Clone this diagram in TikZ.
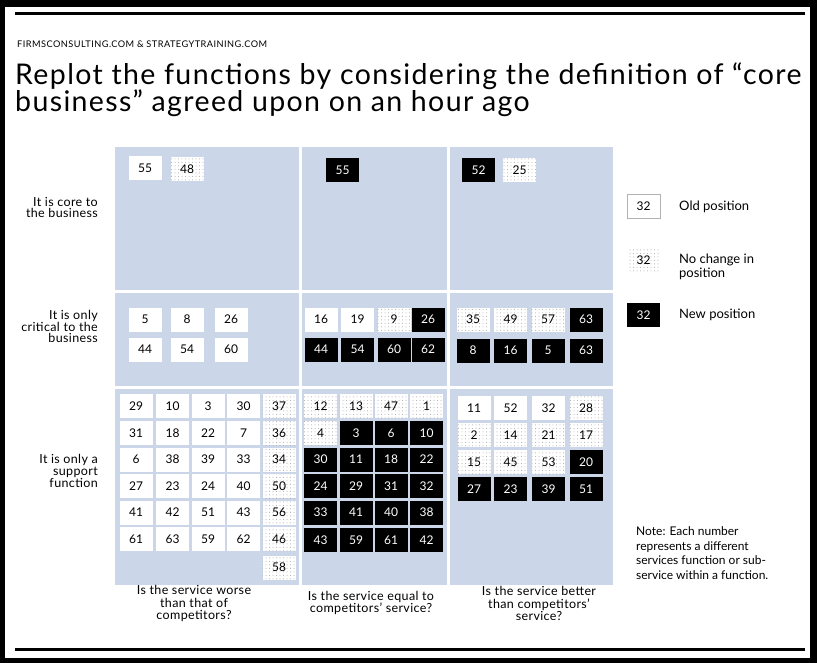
\documentclass[tikz,border=0pt]{standalone}
\usepackage{fontspec}
\setmainfont{Lato}
\newfontfamily\widefont[LetterSpace=3]{Lato}
\newfontfamily\headfont[LetterSpace=5]{Lato}
\newfontfamily\titlefont[LetterSpace=4.8]{Lato}
\usetikzlibrary{patterns.meta}
\definecolor{cellblue}{RGB}{204,214,233}

\begin{document}
\begin{tikzpicture}[
       x=1pt, y=-1pt,
       cell/.style={fill=cellblue},
       numbox/.style={
         minimum width=33pt,
         minimum height=24pt,
         inner sep=0pt,
         font=\fontsize{12}{12}\selectfont
       },
       oldpos/.style={numbox, fill=white},
       samepos/.style={
         numbox,
         preaction={fill=white},
         pattern={Dots[distance=3.5pt,radius=0.5pt]},
         pattern color=gray!70
       },
       newpos/.style={numbox, fill=black, text=white},
       rowlbl/.style={anchor=east, align=right, inner sep=0pt, font=\widefont\fontsize{12.5}{11.8}\selectfont},
       collbl/.style={align=center, inner sep=0pt, font=\widefont\fontsize{12.5}{12.3}\selectfont},
       keylbl/.style={anchor=west, align=left, inner sep=0pt, font=\fontsize{13}{14.5}\selectfont}
     ]

       \useasboundingbox (0,0) rectangle (817,663);
       \fill[black] (0,0) rectangle (817,663);
       \fill[white] (5,7) rectangle (810,658);
       \fill[black] (15,12.5) rectangle (805,15.5);
       \fill[black] (15,647.5) rectangle (805,650.5);

       \node (head) at (17,48) [anchor=base west, inner sep=0pt, font=\headfont\fontsize{9.2}{10}\selectfont]{FIRMSCONSULTING.COM \& STRATEGYTRAINING.COM};
       \node (title1) at (15,85) [anchor=base west, inner sep=0pt, font=\titlefont\fontsize{28.5}{28}\selectfont]{Replot the functions by considering the definition of “core};
       \node (title2) at (15,112) [anchor=base west, inner sep=0pt, font=\titlefont\fontsize{28.5}{28}\selectfont]{business” agreed upon on an hour ago};

       % the nine cells
       \fill[cell] (115,147) rectangle (299,290);
       \fill[cell] (302,147) rectangle (447,290);
       \fill[cell] (450,147) rectangle (613,290);
       \fill[cell] (115,293) rectangle (299,386);
       \fill[cell] (302,293) rectangle (447,386);
       \fill[cell] (450,293) rectangle (613,386);
       \fill[cell] (115,389) rectangle (299,585);
       \fill[cell] (302,389) rectangle (447,585);
       \fill[cell] (450,389) rectangle (613,585);

       \node (t1) at (98,207.5) [rowlbl]{It is core to\\the business};
       \node (t2) at (98,326.5) [rowlbl]{It is only\\critical to the\\business};
       \node (t3) at (98,471) [rowlbl]{It is only a\\support\\function};

       \node (q1) at (194,603.5) [collbl]{Is the service worse\\than that of\\competitors?};
       \node (q2) at (371,603) [collbl]{Is the service equal to\\competitors’ service?};
       \node (q3) at (539,603.5) [collbl]{Is the service better\\than competitors’\\service?};

       % core
       \node (c1) at (145,168.5) [oldpos]{55};
       \node (c2) at (187,169) [samepos]{48};
       \node (c3) at (342.5,170) [newpos]{55};
       \node (c4) at (478.5,170) [newpos]{52};
       \node (c5) at (519.5,170) [samepos]{25};

       % critical
       \node (r1) at (145,319.5) [oldpos]{5};
       \node (r2) at (187,319.5) [oldpos]{8};
       \node (r3) at (231,319.5) [oldpos]{26};
       \node (r4) at (145,349.5) [oldpos]{44};
       \node (r5) at (187,349.5) [oldpos]{54};
       \node (r6) at (231,349.5) [oldpos]{60};

       \node (r7) at (321,319.5) [oldpos]{16};
       \node (r8) at (357.5,319.5) [oldpos]{19};
       \node (r9) at (394,319.5) [samepos]{9};
       \node (r10) at (428,319.5) [newpos]{26};
       \node (r11) at (321,349.5) [newpos]{44};
       \node (r12) at (357.5,349.5) [newpos]{54};
       \node (r13) at (394,349.5) [newpos]{60};
       \node (r14) at (428,349.5) [newpos]{62};

       \node (r15) at (473,319.5) [samepos]{35};
       \node (r16) at (510.5,319.5) [samepos]{49};
       \node (r17) at (548,319.5) [samepos]{57};
       \node (r18) at (586,319.5) [newpos]{63};
       \node (r19) at (473,350.5) [newpos]{8};
       \node (r20) at (510.5,350.5) [newpos]{16};
       \node (r21) at (548,350.5) [newpos]{5};
       \node (r22) at (586,350.5) [newpos]{63};

       % support, worse
       \node (s1) at (136,406) [oldpos]{29};
       \node (s2) at (172.5,406) [oldpos]{10};
       \node (s3) at (208,406) [oldpos]{3};
       \node (s4) at (243.5,406) [oldpos]{30};
       \node (s5) at (279,406) [samepos]{37};
       \node (s6) at (136,433) [oldpos]{31};
       \node (s7) at (172.5,433) [oldpos]{18};
       \node (s8) at (208,433) [oldpos]{22};
       \node (s9) at (243.5,433) [oldpos]{7};
       \node (s10) at (279,433) [samepos]{36};
       \node (s11) at (136,459.5) [oldpos]{6};
       \node (s12) at (172.5,459.5) [oldpos]{38};
       \node (s13) at (208,459.5) [oldpos]{39};
       \node (s14) at (243.5,459.5) [oldpos]{33};
       \node (s15) at (279,459.5) [samepos]{34};
       \node (s16) at (136,486) [oldpos]{27};
       \node (s17) at (172.5,486) [oldpos]{23};
       \node (s18) at (208,486) [oldpos]{24};
       \node (s19) at (243.5,486) [oldpos]{40};
       \node (s20) at (279,486) [samepos]{50};
       \node (s21) at (136,512.5) [oldpos]{41};
       \node (s22) at (172.5,512.5) [oldpos]{42};
       \node (s23) at (208,512.5) [oldpos]{51};
       \node (s24) at (243.5,512.5) [oldpos]{43};
       \node (s25) at (279,512.5) [samepos]{56};
       \node (s26) at (136,539) [oldpos]{61};
       \node (s27) at (172.5,539) [oldpos]{63};
       \node (s28) at (208,539) [oldpos]{59};
       \node (s29) at (243.5,539) [oldpos]{62};
       \node (s30) at (279,539) [samepos]{46};
       \node (s31) at (279,567.5) [samepos]{58};

       % support, equal
       \node (s32) at (320.5,406) [samepos]{12};
       \node (s33) at (356,406) [samepos]{13};
       \node (s34) at (391,406) [samepos]{47};
       \node (s35) at (426.5,406) [samepos]{1};
       \node (s36) at (320.5,433) [samepos]{4};
       \node (s37) at (356,433) [newpos]{3};
       \node (s38) at (391,433) [newpos]{6};
       \node (s39) at (426.5,433) [newpos]{10};
       \node (s40) at (320.5,459.5) [newpos]{30};
       \node (s41) at (356,459.5) [newpos]{11};
       \node (s42) at (391,459.5) [newpos]{18};
       \node (s43) at (426.5,459.5) [newpos]{22};
       \node (s44) at (320.5,486) [newpos]{24};
       \node (s45) at (356,486) [newpos]{29};
       \node (s46) at (391,486) [newpos]{31};
       \node (s47) at (426.5,486) [newpos]{32};
       \node (s48) at (320.5,512.5) [newpos]{33};
       \node (s49) at (356,512.5) [newpos]{41};
       \node (s50) at (391,512.5) [newpos]{40};
       \node (s51) at (426.5,512.5) [newpos]{38};
       \node (s52) at (320.5,540) [newpos]{43};
       \node (s53) at (356,540) [newpos]{59};
       \node (s54) at (391,540) [newpos]{61};
       \node (s55) at (426.5,540) [newpos]{42};

       % support, better
       \node (s56) at (474,408) [oldpos]{11};
       \node (s57) at (510.5,408) [oldpos]{52};
       \node (s58) at (548.5,408) [oldpos]{32};
       \node (s59) at (586,408) [samepos]{28};
       \node (s60) at (474,435) [samepos]{2};
       \node (s61) at (510.5,435) [samepos]{14};
       \node (s62) at (548.5,435) [samepos]{21};
       \node (s63) at (586,435) [samepos]{17};
       \node (s64) at (474,462) [samepos]{15};
       \node (s65) at (510.5,462) [samepos]{45};
       \node (s66) at (548.5,462) [samepos]{53};
       \node (s67) at (586,462) [newpos]{20};
       \node (s68) at (474,489) [newpos]{27};
       \node (s69) at (510.5,489) [newpos]{23};
       \node (s70) at (548.5,489) [newpos]{39};
       \node (s71) at (586,489) [newpos]{51};

       % key
       \node (k1) at (643.5,206.5) [oldpos, draw=gray!60, thin]{32};
       \node (k2) at (643.5,260) [samepos]{32};
       \node (k3) at (643.5,315) [newpos]{32};
       \node (l1) at (679,206.5) [keylbl]{Old position};
       \node (l2) at (679,267) [keylbl]{No change in\\position};
       \node (l3) at (679,315) [keylbl]{New position};

       \node (note) at (636,553) [anchor=west, align=left, inner sep=0pt, font=\fontsize{12}{14.7}\selectfont]{Note: Each number\\represents a different\\services function or sub-\\service within a function.};

\end{tikzpicture}
\end{document}
